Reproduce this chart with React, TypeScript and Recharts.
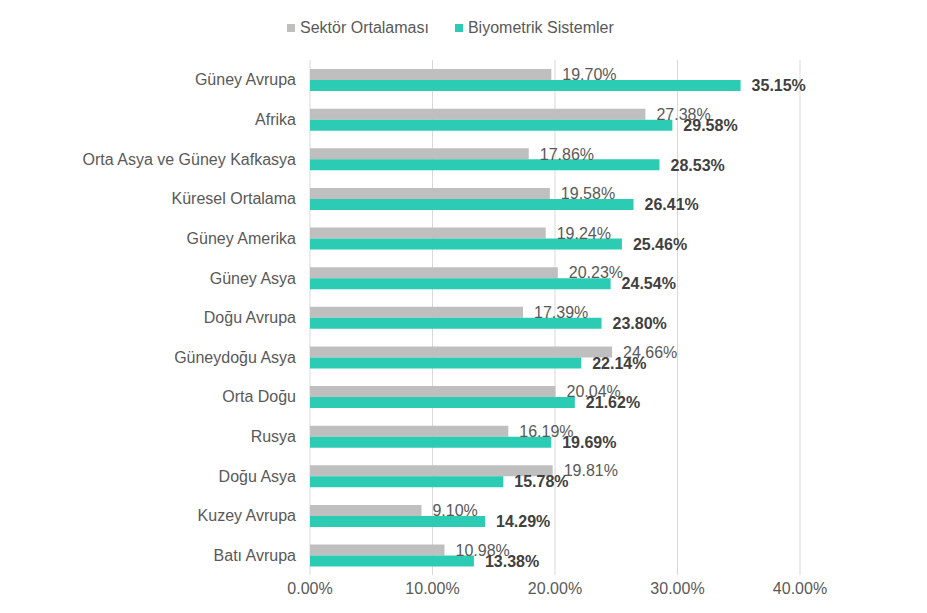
import React from 'react';
import { BarChart, Bar, XAxis, YAxis, CartesianGrid, LabelList } from 'recharts';

const regions = [
  'Güney Avrupa', 'Afrika', 'Orta Asya ve Güney Kafkasya', 'Küresel Ortalama', 'Güney Amerika',
  'Güney Asya', 'Doğu Avrupa', 'Güneydoğu Asya', 'Orta Doğu', 'Rusya', 'Doğu Asya',
  'Kuzey Avrupa', 'Batı Avrupa',
];
const sectorAvg = [19.70, 27.38, 17.86, 19.58, 19.24, 20.23, 17.39, 24.66, 20.04, 16.19, 19.81, 9.10, 10.98];
const biometric = [35.15, 29.58, 28.53, 26.41, 25.46, 24.54, 23.80, 22.14, 21.62, 19.69, 15.78, 14.29, 13.38];
const xTicks = [0, 10, 20, 30, 40];
const seriesNames = ['Sektör Ortalaması', 'Biyometrik Sistemler'];
const seriesColors = ['#bfbfbf', '#2ccbb3'];

const data = regions.map((name, i) => ({ name, sector: sectorAvg[i], bio: biometric[i] }));

const FONT = '"Liberation Sans", Arial, sans-serif';
const fmt = (v: any) => `${Number(v).toFixed(2)}%`;

function LegendBox() {
  return (
    <div
      style={{
        position: 'absolute', left: 287, top: 18, height: 20, display: 'flex', alignItems: 'center',
        fontFamily: FONT, fontSize: 16, color: '#595959', whiteSpace: 'nowrap',
      }}
    >
      {seriesNames.map((n, i) => (
        <div key={n} style={{ display: 'flex', alignItems: 'center', marginRight: i === 0 ? 26 : 0 }}>
          <span style={{ display: 'inline-block', width: 8, height: 8, background: seriesColors[i], marginRight: 5 }} />
          <span>{n}</span>
        </div>
      ))}
    </div>
  );
}

export default function App() {
  return (
    <div style={{ position: 'absolute', left: 0, top: 0, width: 927, height: 613, fontFamily: FONT }}>
      <BarChart
        width={927}
        height={613}
        data={data}
        layout="vertical"
        margin={{ top: 60, right: 127, bottom: 8, left: 0 }}
        barCategoryGap="23%"
        barGap={0}
      >
        <CartesianGrid horizontal={false} stroke="#d9d9d9" />
        <XAxis
          type="number"
          domain={[0, 40]}
          ticks={xTicks}
          tickFormatter={fmt}
          axisLine={false}
          tickLine={false}
          height={30}
          tick={{ fontSize: 16, fill: '#595959', fontFamily: FONT }}
          interval={0}
        />
        <YAxis
          type="category"
          dataKey="name"
          width={310}
          axisLine={false}
          tickLine={false}
          tickSize={0}
          tickMargin={14}
          interval={0}
          tick={{ fontSize: 16, fill: '#595959', fontFamily: FONT }}
        />
        <Bar dataKey="sector" name={seriesNames[0]} fill={seriesColors[0]} isAnimationActive={false}>
          <LabelList dataKey="sector" position="right" offset={11} formatter={fmt} style={{ fontSize: 16, fill: '#595959', fontFamily: FONT }} />
        </Bar>
        <Bar dataKey="bio" name={seriesNames[1]} fill={seriesColors[1]} isAnimationActive={false}>
          <LabelList dataKey="bio" position="right" offset={11} formatter={fmt} style={{ fontSize: 16, fill: '#404040', fontWeight: 'bold', fontFamily: FONT }} />
        </Bar>
      </BarChart>
      <LegendBox />
    </div>
  );
}
